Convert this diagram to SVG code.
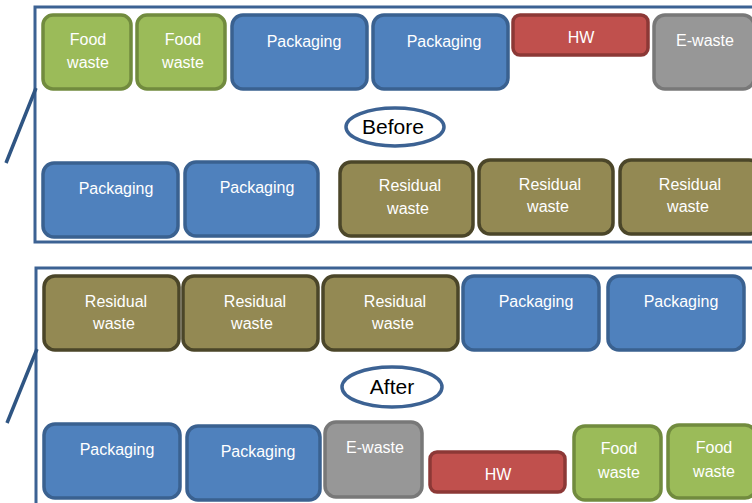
<svg xmlns="http://www.w3.org/2000/svg" width="752" height="503" viewBox="0 0 752 503">
<style>
.frame{fill:none;stroke:#3c6293;stroke-width:3}
.b{stroke-width:3.5}
.food{fill:#9bbb59;stroke:#718b3e}
.pack{fill:#4f81bd;stroke:#3a6190}
.hw{fill:#c0504d;stroke:#8c3836}
.ew{fill:#979797;stroke:#787878}
.res{fill:#938953;stroke:#4b4629}
.t{font-family:"Liberation Sans",Arial,sans-serif;font-size:16px;fill:#ffffff;text-anchor:middle}
.lbl{font-family:"Liberation Sans",Arial,sans-serif;font-size:21px;fill:#000000;text-anchor:middle}
.ell{fill:#ffffff;stroke:#3c6293;stroke-width:3.5}
</style>
<rect width="752" height="503" fill="#ffffff"/>
<g id="frames">
<rect class="frame" x="35" y="7" width="730" height="235"/>
<rect class="frame" x="36" y="268" width="730" height="250"/>
</g>
<g id="connectors">
<line x1="36" y1="88" x2="6" y2="163" stroke="#2f5583" stroke-width="3.5"/>
<line x1="37" y1="349" x2="7" y2="423" stroke="#2f5583" stroke-width="3.5"/>
</g>
<g id="before-food1"><rect class="b food" x="43" y="15" width="88" height="74" rx="10"/><text class="t" x="88" y="45">Food</text><text class="t" x="88" y="68">waste</text></g>
<g id="before-food2"><rect class="b food" x="137" y="15" width="88" height="74" rx="10"/><text class="t" x="183" y="45">Food</text><text class="t" x="183" y="68">waste</text></g>
<g id="before-pack1"><rect class="b pack" x="232" y="15" width="135" height="74" rx="11"/><text class="t" x="304" y="47">Packaging</text></g>
<g id="before-pack2"><rect class="b pack" x="373" y="15" width="135" height="74" rx="11"/><text class="t" x="444" y="47">Packaging</text></g>
<g id="before-hw"><rect class="b hw" x="513" y="15" width="135" height="40" rx="7"/><text class="t" x="581" y="43">HW</text></g>
<g id="before-ewaste"><rect class="b ew" x="654" y="15" width="100" height="74" rx="11"/><text class="t" x="705" y="46">E-waste</text></g>
<g id="before-label"><ellipse class="ell" cx="395" cy="127" rx="49" ry="19"/><text class="lbl" x="393" y="134">Before</text></g>
<g id="before-pack3"><rect class="b pack" x="43" y="163" width="135" height="74" rx="11"/><text class="t" x="116" y="194">Packaging</text></g>
<g id="before-pack4"><rect class="b pack" x="185" y="162" width="133" height="74" rx="11"/><text class="t" x="257" y="193">Packaging</text></g>
<g id="before-res1"><rect class="b res" x="340" y="162" width="133" height="74" rx="11"/><text class="t" x="410" y="191">Residual</text><text class="t" x="408" y="214">waste</text></g>
<g id="before-res2"><rect class="b res" x="479" y="160" width="134" height="74" rx="11"/><text class="t" x="550" y="190">Residual</text><text class="t" x="548" y="212">waste</text></g>
<g id="before-res3"><rect class="b res" x="620" y="160" width="140" height="74" rx="11"/><text class="t" x="690" y="190">Residual</text><text class="t" x="688" y="212">waste</text></g>
<g id="after-res1"><rect class="b res" x="44" y="276" width="135" height="74" rx="11"/><text class="t" x="116" y="307">Residual</text><text class="t" x="114" y="329">waste</text></g>
<g id="after-res2"><rect class="b res" x="183" y="276" width="135" height="74" rx="11"/><text class="t" x="255" y="307">Residual</text><text class="t" x="252" y="329">waste</text></g>
<g id="after-res3"><rect class="b res" x="323" y="276" width="135" height="74" rx="11"/><text class="t" x="395" y="307">Residual</text><text class="t" x="393" y="329">waste</text></g>
<g id="after-pack1"><rect class="b pack" x="463" y="276" width="136" height="74" rx="11"/><text class="t" x="536" y="307">Packaging</text></g>
<g id="after-pack2"><rect class="b pack" x="608" y="276" width="136" height="74" rx="11"/><text class="t" x="681" y="307">Packaging</text></g>
<g id="after-label"><ellipse class="ell" cx="392" cy="387" rx="50" ry="20"/><text class="lbl" x="392" y="394">After</text></g>
<g id="after-pack3"><rect class="b pack" x="44" y="424" width="136" height="74" rx="11"/><text class="t" x="117" y="455">Packaging</text></g>
<g id="after-pack4"><rect class="b pack" x="187" y="426" width="133" height="74" rx="11"/><text class="t" x="258" y="457">Packaging</text></g>
<g id="after-ewaste"><rect class="b ew" x="325" y="422" width="97" height="75" rx="11"/><text class="t" x="375" y="453">E-waste</text></g>
<g id="after-hw"><rect class="b hw" x="430" y="452" width="135" height="40" rx="7"/><text class="t" x="498" y="480">HW</text></g>
<g id="after-food1"><rect class="b food" x="574" y="426" width="87" height="74" rx="11"/><text class="t" x="619" y="454">Food</text><text class="t" x="619" y="478">waste</text></g>
<g id="after-food2"><rect class="b food" x="668" y="425" width="88" height="73" rx="11"/><text class="t" x="714" y="453">Food</text><text class="t" x="714" y="477">waste</text></g>
</svg>
